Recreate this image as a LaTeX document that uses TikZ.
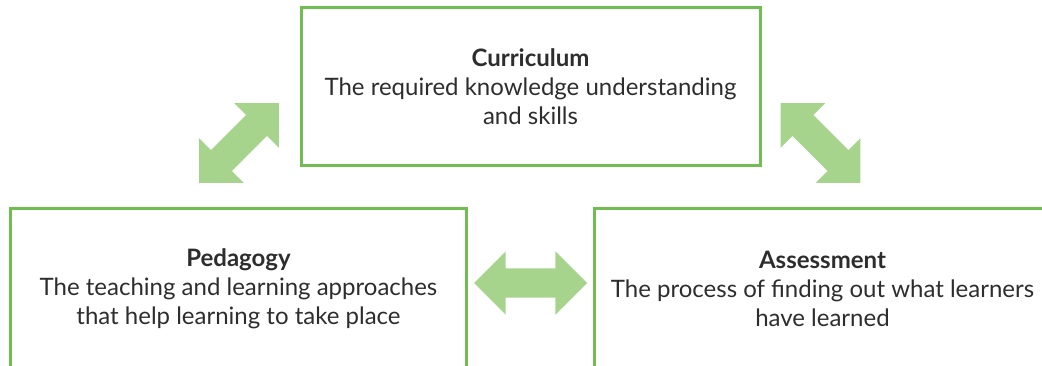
\documentclass[tikz,border=0pt]{standalone}
\usepackage{fontspec}
\setmainfont{Lato}
\usetikzlibrary{shapes.arrows,calc}

\definecolor{boxgreen}{RGB}{112,189,82}
\definecolor{arrowgreen}{RGB}{166,212,141}
\definecolor{textgrey}{RGB}{45,45,45}

\begin{document}
\begin{tikzpicture}[x=1pt, y=1pt,
    every node/.style={align=center, text=textgrey, font=\fontsize{24}{29}\selectfont},
    topic/.style={draw=boxgreen, line width=3pt, inner sep=0pt},
    link/.style={double arrow, fill=arrowgreen, draw=none, inner xsep=0pt, inner ysep=14.5pt,
        minimum height=113pt, double arrow head extend=17pt, double arrow tip angle=90}
]
  \clip (0,0) rectangle (1042,-366);
  \node[topic, minimum width=459pt, minimum height=158pt] (curr) at (530.5,-87)
      {\textbf{Curriculum}\\The required knowledge understanding\\and skills};
  \node[topic, minimum width=456pt, minimum height=160pt] (ped) at (238.5,-288.5)
      {\textbf{Pedagogy}\\The teaching and learning approaches\\that help learning to take place};
  \node[topic, minimum width=456pt, minimum height=160pt] (ass) at (822.5,-288.5)
      {\textbf{Assessment}\\The process of finding out what learners\\have learned};
  % arrows between the boxes
  \node[link, rotate=45] (cp) at ($(ped.north)+(0.5,64)$) {};
  \node[link, rotate=-45] (ca) at ($(ass.north)+(-2,64)$) {};
  \node[link] (pa) at ($(ped.east)!.5!(ass.west)+(0,5.5)$) {};
\end{tikzpicture}
\end{document}
